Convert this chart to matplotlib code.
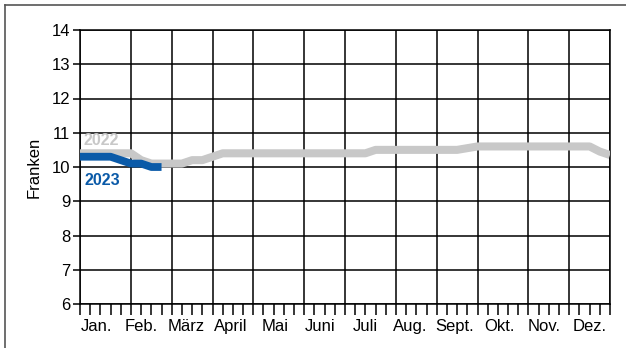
import matplotlib.pyplot as plt
import numpy as np
from matplotlib.lines import Line2D

plt.rcParams['font.family'] = ['Liberation Sans', 'DejaVu Sans']

months = ['Jan.', 'Feb.', 'März', 'April', 'Mai', 'Juni', 'Juli',
          'Aug.', 'Sept.', 'Okt.', 'Nov.', 'Dez.']
month_start_week = [0, 5, 9, 13, 17, 22, 26, 31, 35, 39, 44, 48, 52]

# weekly prices (Franken)
price_2022 = [10.4, 10.4, 10.4, 10.4, 10.4, 10.4, 10.2, 10.1, 10.1, 10.1,
              10.1, 10.2, 10.2, 10.3, 10.4, 10.4, 10.4, 10.4, 10.4, 10.4,
              10.4, 10.4, 10.4, 10.4, 10.4, 10.4, 10.4, 10.4, 10.4, 10.5,
              10.5, 10.5, 10.5, 10.5, 10.5, 10.5, 10.5, 10.5, 10.55, 10.6,
              10.6, 10.6, 10.6, 10.6, 10.6, 10.6, 10.6, 10.6, 10.6, 10.6,
              10.6, 10.45, 10.35]
price_2023 = [10.3, 10.3, 10.3, 10.3, 10.2, 10.1, 10.1, 10.0, 10.0]

fig = plt.figure(figsize=(6.26, 3.48), dpi=100)
ax = fig.add_axes([80 / 626, 1 - 304 / 348, 530 / 626, 274 / 348])

ax.plot(range(len(price_2022)), price_2022, color='#c8c8c8', lw=5.8,
        solid_capstyle='butt', solid_joinstyle='round', zorder=3)
ax.plot(range(len(price_2023)), price_2023, color='#0a5aa8', lw=5.6,
        solid_capstyle='butt', solid_joinstyle='round', zorder=4)

ax.set_xlim(0, 52)
ax.set_ylim(6, 14)
ax.set_yticks(range(6, 15))
ax.set_xticks(month_start_week)
ax.set_xticklabels([])
ax.set_xticks(range(53), minor=True)
# month labels are spread evenly, a bit left of the month centres
label_pos = [1.57 + 4.4 * i for i in range(12)]
for c, m in zip(label_pos, months):
    ax.text(c, -0.055, m, transform=ax.get_xaxis_transform(), ha='center',
            va='top', fontsize=12)

ax.grid(True, which='major', color='black', lw=1.1)
ax.tick_params(axis='y', labelsize=12, length=5, width=1.1, pad=2)
ax.tick_params(axis='x', which='both', length=8, width=1.1, direction='out')
for s in ax.spines.values():
    s.set_linewidth(1.1)

ax.set_ylabel('Franken', fontsize=12, labelpad=7)

ax.text(0.3, 10.77, '2022', color='#c8c8c8', fontsize=11.5, fontweight='bold',
        va='center', ha='left')
ax.text(0.4, 9.62, '2023', color='#0a5aa8', fontsize=11.5, fontweight='bold',
        va='center', ha='left')

# outer frame
fig.add_artist(Line2D([5 / 626, 5 / 626], [0, 1 - 5 / 348], color='#555555',
                      lw=1.2, transform=fig.transFigure))
fig.add_artist(Line2D([5 / 626, 1], [1 - 5 / 348, 1 - 5 / 348], color='#555555',
                      lw=1.2, transform=fig.transFigure))

fig.savefig('out.png', dpi=100)
